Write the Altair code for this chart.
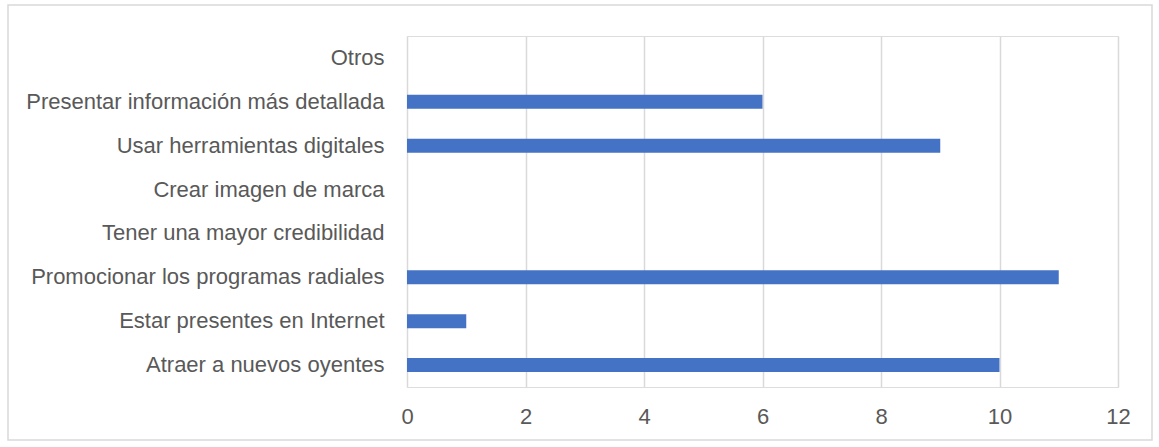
import altair as alt
import pandas as pd

categories = [
    "Otros",
    "Presentar información más detallada",
    "Usar herramientas digitales ",
    "Crear imagen de marca ",
    "Tener una mayor credibilidad",
    "Promocionar los programas radiales ",
    "Estar presentes en Internet ",
    "Atraer a nuevos oyentes",
]
values = [0, 6, 9, 0, 0, 11, 1, 10]
x_ticks = [0, 2, 4, 6, 8, 10, 12]

df = pd.DataFrame({"cat": categories, "val": values})

FONT = "Liberation Sans"
TXT = "#595959"
GRID = "#d9d9d9"

# keep trailing spaces visible (SVG would collapse ordinary trailing spaces)
label_expr = "datum.label"
for c in categories:
    if c.endswith(" "):
        t = c.rstrip()
        label_expr = (f"trim(datum.label) == '{t}' ? '{t}\u00a0\u00a0' : (" + label_expr + ")")

frame = alt.Chart(pd.DataFrame({"k": [0]})).mark_rect(
    fillOpacity=0, stroke=GRID, strokeWidth=1.5, clip=False
).encode(
    x=alt.value(-399), x2=alt.value(745), y=alt.value(-31), y2=alt.value(404)
)

bars = alt.Chart(df).mark_bar(size=14, color="#4472C4").encode(
    x=alt.X("val:Q", scale=alt.Scale(domain=[0, 12], nice=False),
            axis=alt.Axis(values=x_ticks, title=None, grid=True, gridColor=GRID,
                          gridWidth=1.5, domain=False, ticks=False, tickSize=0,
                          labelFont=FONT, labelFontSize=22, labelColor=TXT,
                          labelPadding=19, labelFlush=False)),
    y=alt.Y("cat:N", sort=categories,
            axis=alt.Axis(title=None, domain=False, ticks=False, tickSize=0,
                          labelFont=FONT, labelFontSize=22, labelColor=TXT,
                          labelPadding=23, labelLimit=500, labelExpr=label_expr)),
)

chart = alt.layer(frame, bars).properties(
    width=711, height=351,
    padding={"left": 407, "top": 36, "right": 41, "bottom": 60},
    autosize=alt.AutoSizeParams(type="none"),
).configure_view(stroke=None).configure(background="white")

chart.save("out.html", embed_options={"renderer": "svg", "actions": False})
